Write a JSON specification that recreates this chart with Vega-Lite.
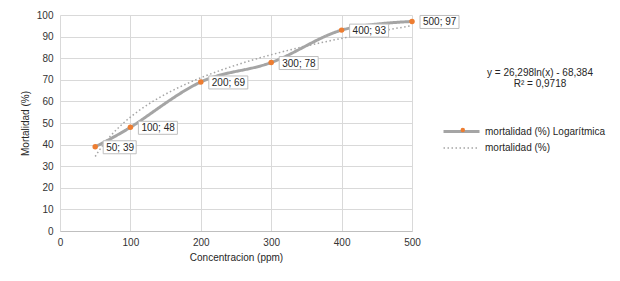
{
  "$schema": "https://vega.github.io/schema/vega-lite/v6.json",
  "width": 352,
  "height": 216,
  "autosize": {"type": "none"},
  "padding": {"left": 60, "top": 15, "right": 208, "bottom": 50},
  "background": "white",
  "data": {
    "values": [
      {"concentracion": 50, "mortalidad": 39, "etiqueta": "50; 39"},
      {"concentracion": 100, "mortalidad": 48, "etiqueta": "100; 48"},
      {"concentracion": 200, "mortalidad": 69, "etiqueta": "200; 69"},
      {"concentracion": 300, "mortalidad": 78, "etiqueta": "300; 78"},
      {"concentracion": 400, "mortalidad": 93, "etiqueta": "400; 93"},
      {"concentracion": 500, "mortalidad": 97, "etiqueta": "500; 97"}
    ]
  },
  "title": {
    "text": ["y = 26,298ln(x) - 68,384", "R² = 0,9718"],
    "anchor": "start",
    "frame": "group",
    "align": "center",
    "baseline": "top",
    "dx": 480,
    "dy": 79,
    "offset": 0,
    "font": "Liberation Sans",
    "fontSize": 10,
    "fontWeight": "normal",
    "color": "#262626",
    "lineHeight": 11
  },
  "encoding": {
    "x": {
      "field": "concentracion",
      "type": "quantitative",
      "scale": {"domain": [0, 500]},
      "axis": {"title": "Concentracion (ppm)", "values": [0, 100, 200, 300, 400, 500]}
    },
    "y": {
      "field": "mortalidad",
      "type": "quantitative",
      "scale": {"domain": [0, 100]},
      "axis": {"title": "Mortalidad (%)", "values": [0, 10, 20, 30, 40, 50, 60, 70, 80, 90, 100]}
    }
  },
  "layer": [
    {
      "transform": [
        {"regression": "mortalidad", "on": "concentracion", "method": "log", "extent": [50, 500]}
      ],
      "mark": {"type": "line"},
      "encoding": {
        "color": {"datum": "mortalidad (%)", "type": "nominal"},
        "strokeDash": {"datum": "mortalidad (%)", "type": "nominal"},
        "strokeWidth": {"datum": "mortalidad (%)", "type": "nominal"}
      }
    },
    {
      "mark": {"type": "line", "interpolate": "cardinal"},
      "encoding": {
        "color": {
          "datum": "mortalidad (%) Logarítmica",
          "type": "nominal",
          "scale": {"domain": ["mortalidad (%) Logarítmica", "mortalidad (%)"], "range": ["#a5a5a5", "#a5a5a5"]},
          "legend": {
            "title": null,
            "orient": "none",
            "legendX": 382,
            "legendY": 110,
            "padding": 0,
            "symbolType": "M-1,0H6.2",
            "symbolSize": 100,
            "labelOffset": 30,
            "rowPadding": 4,
            "labelFont": "Liberation Sans",
            "labelFontSize": 10,
            "labelColor": "#262626"
          }
        },
        "strokeDash": {
          "datum": "mortalidad (%) Logarítmica",
          "type": "nominal",
          "scale": {"domain": ["mortalidad (%) Logarítmica", "mortalidad (%)"], "range": [[1, 0], [1.5, 2.5]]},
          "legend": {
            "title": null,
            "orient": "none",
            "legendX": 382,
            "legendY": 110,
            "padding": 0,
            "symbolType": "M-1,0H6.2",
            "symbolSize": 100,
            "labelOffset": 30,
            "rowPadding": 4,
            "labelFont": "Liberation Sans",
            "labelFontSize": 10,
            "labelColor": "#262626"
          }
        },
        "strokeWidth": {
          "datum": "mortalidad (%) Logarítmica",
          "type": "nominal",
          "scale": {"domain": ["mortalidad (%) Logarítmica", "mortalidad (%)"], "range": [3, 1.5]},
          "legend": {
            "title": null,
            "orient": "none",
            "legendX": 382,
            "legendY": 110,
            "padding": 0,
            "symbolType": "M-1,0H6.2",
            "symbolSize": 100,
            "labelOffset": 30,
            "rowPadding": 4,
            "labelFont": "Liberation Sans",
            "labelFontSize": 10,
            "labelColor": "#262626"
          }
        }
      }
    },
    {
      "mark": {"type": "point", "filled": true, "size": 30, "opacity": 1},
      "encoding": {
        "fill": {
          "datum": "mortalidad (%) Logarítmica",
          "type": "nominal",
          "scale": {"domain": ["mortalidad (%) Logarítmica"], "range": ["#ed7d31"]},
          "legend": {
            "title": null,
            "orient": "none",
            "legendX": 397.8,
            "legendY": 110,
            "padding": 0,
            "symbolType": "circle",
            "symbolSize": 20,
            "labelExpr": "''",
            "labelFontSize": 10
          }
        }
      }
    },
    {
      "transform": [{"filter": "datum.concentracion < 100"}],
      "mark": {"type": "point", "shape": "M0.8,-0.6H4.1V0.7H0.8Z", "size": 400, "filled": true, "fill": "white", "stroke": "#bfbfbf", "strokeWidth": 1, "opacity": 1}
    },
    {
      "transform": [{"filter": "datum.concentracion >= 100"}],
      "mark": {"type": "point", "shape": "M0.8,-0.6H4.7V0.7H0.8Z", "size": 400, "filled": true, "fill": "white", "stroke": "#bfbfbf", "strokeWidth": 1, "opacity": 1}
    },
    {
      "mark": {"type": "text", "align": "left", "baseline": "middle", "dx": 11, "dy": 1, "font": "Liberation Sans", "fontSize": 10, "color": "#262626"},
      "encoding": {"text": {"field": "etiqueta", "type": "nominal"}}
    }
  ],
  "config": {
    "view": {"stroke": null},
    "font": "Liberation Sans",
    "axis": {
      "grid": true,
      "gridColor": "#d9d9d9",
      "gridWidth": 1,
      "ticks": false,
      "tickSize": 0,
      "labelFont": "Liberation Sans",
      "labelFontSize": 10,
      "labelColor": "#333333",
      "titleFont": "Liberation Sans",
      "titleFontSize": 10,
      "titleFontWeight": "normal",
      "titleColor": "#262626"
    },
    "axisX": {"domainColor": "#bfbfbf", "labelPadding": 6, "labelFlush": false, "titlePadding": 5},
    "axisY": {"domain": false, "labelPadding": 7, "titlePadding": 6}
  }
}
